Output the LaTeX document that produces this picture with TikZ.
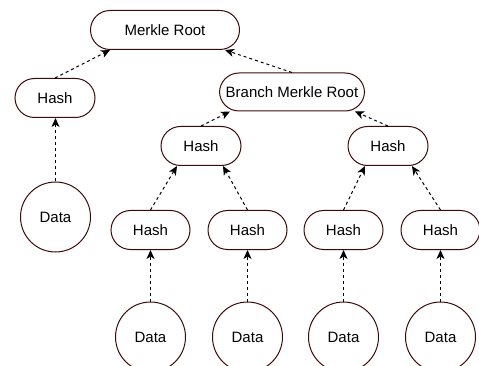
\documentclass[tikz,border=0pt]{standalone}
\usepackage{fontspec}
\setmainfont{Liberation Sans}
\usepackage{tikz}
\usetikzlibrary{positioning}
\usetikzlibrary{arrows,arrows.meta}
\definecolor{edge}{RGB}{64,10,10}
\tikzset{hashbox/.style={draw=edge, line width=1pt, rounded corners=19.5pt, minimum height=39pt, minimum width=80pt, inner sep=2pt, font=\fontsize{15}{18}\selectfont}}
\tikzset{databox/.style={draw=edge, line width=1pt, circle, minimum size=70pt, inner sep=0pt, font=\fontsize{15}{18}\selectfont}}
\tikzset{link/.style={-{Stealth[length=9pt,width=8pt,inset=2.5pt]}, line width=1pt, dash pattern=on 3pt off 3pt}}

\begin{document}
\begin{tikzpicture}[x=1pt,y=-1pt]
\useasboundingbox (0,0) rectangle (479,366);
\node[hashbox, minimum width=149pt] (root) at (165,30) {Merkle Root};
\node[hashbox] (lhash) at (55,98) {Hash};
\node[hashbox, minimum width=145pt, minimum height=38pt] (branch) at (292,92) {Branch Merkle Root};
\node[databox] (ldata) at (55.5,217) {Data};
\node[hashbox] (mhashA) at (201,146) {Hash};
\node[hashbox] (mhashB) at (388,146) {Hash};
% bottom row
\foreach \i/\x in {1/150.5,2/247.5,3/343.5,4/440.5}{
\node[hashbox, minimum width=79pt] (bhash\i) at (\x,230) {Hash};
\node[databox] (bdata\i) at (\x,337) {Data};
\draw[link] (bdata\i) -- (bhash\i);
}
\draw[link] (lhash.north) -- ([xshift=-55pt]root.south);
\draw[link] (branch.north) -- ([xshift=60pt]root.south);
\draw[link] (ldata) -- ([xshift=0.5pt]lhash.south);
\draw[link] (mhashA.north) -- ([xshift=-62pt]branch.south);
\draw[link] (mhashB.north) -- ([xshift=63pt]branch.south);
\draw[link] (bhash1.north) -- ([xshift=-24pt]mhashA.south);
\draw[link] (bhash2.north) -- ([xshift=22pt]mhashA.south);
\draw[link] (bhash3.north) -- ([xshift=-23pt]mhashB.south);
\draw[link] (bhash4.north) -- ([xshift=24pt]mhashB.south);
\end{tikzpicture}
\end{document}
